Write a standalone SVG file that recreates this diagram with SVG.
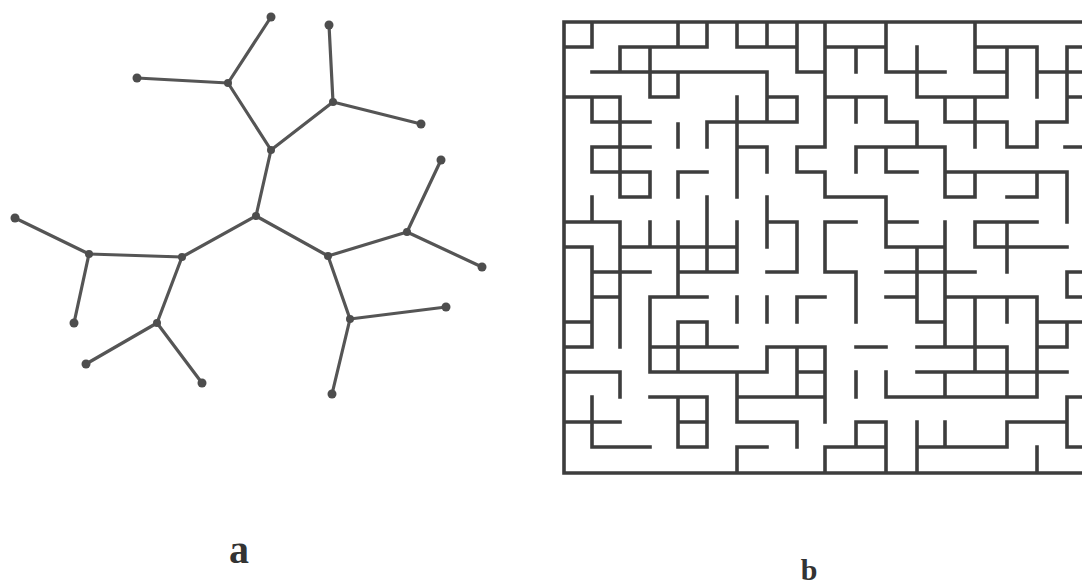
<svg xmlns="http://www.w3.org/2000/svg" width="1082" height="587" viewBox="0 0 1082 587">
<style>
.edge{stroke:#555;stroke-width:3.2;fill:none;stroke-linecap:round}
.node{fill:#4d4d4d}
.maze{stroke:#3d3d3d;stroke-width:3.6;fill:none;stroke-linecap:square}
.lbl{font-family:"Liberation Serif",serif;font-weight:bold;fill:#333;text-anchor:middle}
</style>
<rect width="1082" height="587" fill="#fff"/>
<g id="connectors">
<line class="edge" x1="228" y1="83" x2="271" y2="17"/>
<line class="edge" x1="228" y1="83" x2="137" y2="78"/>
<line class="edge" x1="228" y1="83" x2="271" y2="150"/>
<line class="edge" x1="333" y1="102" x2="329" y2="25"/>
<line class="edge" x1="333" y1="102" x2="421" y2="124"/>
<line class="edge" x1="333" y1="102" x2="271" y2="150"/>
<line class="edge" x1="271" y1="150" x2="256" y2="216"/>
<line class="edge" x1="256" y1="216" x2="182" y2="257"/>
<line class="edge" x1="256" y1="216" x2="328" y2="256"/>
<line class="edge" x1="182" y1="257" x2="89" y2="254"/>
<line class="edge" x1="182" y1="257" x2="157" y2="323"/>
<line class="edge" x1="89" y1="254" x2="15" y2="218"/>
<line class="edge" x1="89" y1="254" x2="74" y2="323"/>
<line class="edge" x1="157" y1="323" x2="86" y2="364"/>
<line class="edge" x1="157" y1="323" x2="202" y2="383"/>
<line class="edge" x1="328" y1="256" x2="407" y2="232"/>
<line class="edge" x1="328" y1="256" x2="350" y2="319"/>
<line class="edge" x1="407" y1="232" x2="441" y2="160"/>
<line class="edge" x1="407" y1="232" x2="482" y2="267"/>
<line class="edge" x1="350" y1="319" x2="446" y2="307"/>
<line class="edge" x1="350" y1="319" x2="332" y2="394"/>
</g>
<g id="n1"><circle class="node" cx="271" cy="17" r="4.5"/></g>
<g id="n2"><circle class="node" cx="228" cy="83" r="4"/></g>
<g id="n3"><circle class="node" cx="137" cy="78" r="4.5"/></g>
<g id="n4"><circle class="node" cx="329" cy="25" r="4.5"/></g>
<g id="n5"><circle class="node" cx="333" cy="102" r="4"/></g>
<g id="n6"><circle class="node" cx="421" cy="124" r="4.5"/></g>
<g id="n7"><circle class="node" cx="271" cy="150" r="4"/></g>
<g id="n8"><circle class="node" cx="256" cy="216" r="4"/></g>
<g id="n9"><circle class="node" cx="182" cy="257" r="4"/></g>
<g id="n10"><circle class="node" cx="89" cy="254" r="4"/></g>
<g id="n11"><circle class="node" cx="15" cy="218" r="4.5"/></g>
<g id="n12"><circle class="node" cx="74" cy="323" r="4.5"/></g>
<g id="n13"><circle class="node" cx="157" cy="323" r="4"/></g>
<g id="n14"><circle class="node" cx="86" cy="364" r="4.5"/></g>
<g id="n15"><circle class="node" cx="202" cy="383" r="4.5"/></g>
<g id="n16"><circle class="node" cx="328" cy="256" r="4"/></g>
<g id="n17"><circle class="node" cx="407" cy="232" r="4"/></g>
<g id="n18"><circle class="node" cx="441" cy="160" r="4.5"/></g>
<g id="n19"><circle class="node" cx="482" cy="267" r="4.5"/></g>
<g id="n20"><circle class="node" cx="350" cy="319" r="4"/></g>
<g id="n21"><circle class="node" cx="446" cy="307" r="4.5"/></g>
<g id="n22"><circle class="node" cx="332" cy="394" r="4.5"/></g>
<g id="maze">
<path class="maze" d="M564 22H1090M564 473H1090M564 22V473
M564 47H592M592 22V47M678 22V47M707 22V47M620 47H707M620 47V72M650 47V97M592 72H767M678 72V97M650 97H678
M767 72V122M767 97H797M797 97V122M707 122H797M707 122V147M737 22V47M767 22V47M737 47H797M797 22V72M797 72H825
M564 97H620M620 97V197M592 97V122M592 122H650M592 147H650M592 147V172M592 172H650M650 172V197M620 197H650
M678 124V147M737 97V197M737 147H767M767 147V172M797 147V172M797 147H825M797 172H825
M825 22V147M825 47H886M886 22V72M856 47V72M886 72H945M917 47V97M917 97H1007M1007 47V97M975 47H1037M975 22V72M975 72H1007
M1037 47V97M1037 72H1090M1067 47V122M1067 47H1090M1067 97H1090M1037 122H1067M1037 122V147M1007 147H1037M1007 122V147
M945 122H1007M945 97V122M975 97V147M1065 147H1090M825 97H886M856 97V122M886 97V122M886 122H917M917 122V147M856 147H945
M856 147V172M886 147V172M886 172H917M945 147V197
M945 172H1067M975 172V197M945 197H975M1037 172V197M1007 197H1037M1067 172V222M825 172V197M825 197H886M886 197V247
M886 222H917M886 247H945M917 247V322M945 222V347M886 272H975M886 297H917M945 297H1037M975 297V372M1007 297V322M1037 297V397
M975 222H1037M975 222V247M975 247H1067M1007 222V272M1067 272H1090M1067 272V297M1067 297H1090
M825 222H856M825 222V272M825 272H856M856 272V322M797 297H825
M917 322H945M1037 322H1090M1067 322V347M1037 347H1067M917 347H1007M1007 347V397M917 372H1067M945 372V397M886 397H1037
M856 347H886M767 347H825M825 347V422M797 372H825M737 397H825M856 372V397M886 372V397
M856 422V447M856 422H886M886 422V473M825 447H886M825 447V473M917 422V473M945 422V447M917 447H1007M1007 422V447
M1007 422H1067M1067 397V447M1067 397H1090M1067 447H1090M1037 447V473
M678 172V197M678 172H707M592 197V222M564 222H620M620 222V347M650 222V247M678 222V297M707 197V272M737 222V272
M620 247H737M678 272H737M564 247H592M592 247V347M592 272H650M592 297H620M650 297H707M650 297V372
M767 197V247M767 222H797M797 222V272M767 272H797M737 297V322M767 297V322M797 297V322
M564 322H592M564 347H592M650 347H737M678 322V372M678 322H707M707 322V347M650 372H767M767 347V372
M564 372H620M620 372V397M797 347V397M737 372V422M737 422H797M797 422V447M650 397H707M678 397V447M707 397V447
M678 422H707M678 447H707M592 397V447M564 422H620M592 447H650M737 447H767M737 447V473"/>
</g>
<text class="lbl" x="239" y="563" font-size="40">a</text>
<text class="lbl" x="809" y="580" font-size="30">b</text>
</svg>
